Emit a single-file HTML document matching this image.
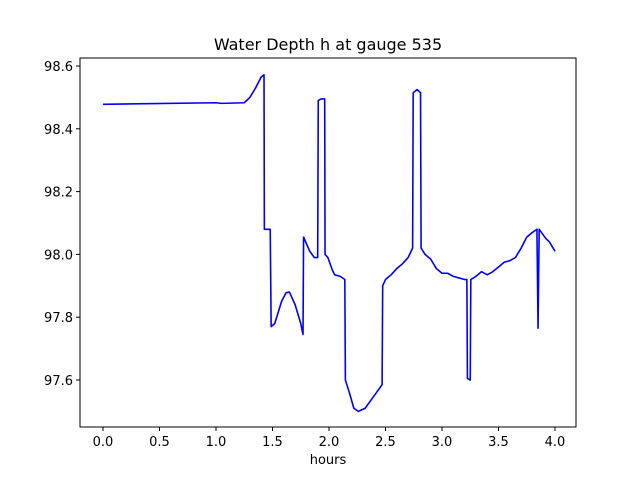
<!DOCTYPE html>
<html><head><meta charset="utf-8"><style>body{margin:0;background:#fff}svg{display:block;font-family:"DejaVu Sans","Liberation Sans",sans-serif}</style></head>
<body>
<svg id="c" width="640" height="480"></svg>
<script>
const hours=[0,1.0,1.05,1.25,1.3,1.35,1.4,1.425,1.428,1.48,1.488,1.52,1.58,1.62,1.65,1.7,1.75,1.77,1.775,1.83,1.87,1.9,1.905,1.93,1.962,1.965,1.99,2.03,2.05,2.1,2.14,2.145,2.18,2.22,2.26,2.32,2.38,2.42,2.47,2.475,2.5,2.55,2.6,2.65,2.7,2.74,2.745,2.78,2.81,2.815,2.85,2.9,2.95,3.0,3.05,3.1,3.15,3.2,3.22,3.225,3.25,3.255,3.3,3.35,3.4,3.45,3.5,3.55,3.6,3.65,3.7,3.75,3.8,3.84,3.85,3.86,3.9,3.92,3.95,4.0];
const depth=[98.478,98.483,98.481,98.483,98.50,98.53,98.565,98.572,98.08,98.08,97.77,97.78,97.85,97.878,97.88,97.84,97.78,97.745,98.055,98.01,97.99,97.99,98.49,98.495,98.495,98.0,97.99,97.95,97.935,97.93,97.92,97.60,97.56,97.51,97.50,97.51,97.54,97.56,97.585,97.90,97.92,97.935,97.955,97.97,97.99,98.02,98.515,98.525,98.515,98.02,98.0,97.985,97.955,97.94,97.94,97.93,97.925,97.92,97.92,97.605,97.60,97.92,97.93,97.945,97.935,97.945,97.96,97.975,97.98,97.99,98.02,98.055,98.07,98.08,97.765,98.08,98.06,98.05,98.04,98.01];
const xTicks=[0,0.5,1,1.5,2,2.5,3,3.5,4];
const xTickLabels=["0.0","0.5","1.0","1.5","2.0","2.5","3.0","3.5","4.0"];
const yTicks=[97.6,97.8,98.0,98.2,98.4,98.6];
const yTickLabels=["97.6","97.8","98.0","98.2","98.4","98.6"];
const L=80,R=576,T=58,B=427;
const X=v=>103+v*113;
const Y=v=>66+(98.6-v)*314;
const svg=document.getElementById('c');
function mk(t,a,txt){const e=document.createElementNS('http://www.w3.org/2000/svg',t);for(const k in a)e.setAttribute(k,a[k]);if(txt!=null)e.textContent=txt;svg.appendChild(e);return e;}
let p=mk('polyline',{points:hours.map((h,i)=>X(h)+','+Y(depth[i])).join(' '),fill:'none',stroke:'#0000ff','stroke-width':1.6,'stroke-linejoin':'round'});


let f=mk('rect',{x:L,y:T,width:R-L,height:B-T,fill:'none',stroke:'#000','stroke-width':1});


xTicks.forEach((v,i)=>{mk('line',{x1:X(v),x2:X(v),y1:B,y2:B+4,stroke:'#000'});
 let t=mk('text',{x:X(v),y:B+19,'font-size':13,'text-anchor':'middle'},xTickLabels[i]);
 
 });
yTicks.forEach((v,i)=>{mk('line',{x1:L-4,x2:L,y1:Y(v),y2:Y(v),stroke:'#000'});
 let t=mk('text',{x:L-7,y:Y(v)+5,'font-size':13,'text-anchor':'end'},yTickLabels[i]);
 
 });
let xt=mk('text',{x:328,y:464,'font-size':13,'text-anchor':'middle'},'hours');


let tt=mk('text',{x:328,y:50,'font-size':16,'text-anchor':'middle'},'Water Depth h at gauge 535');


</script>
</body></html>
